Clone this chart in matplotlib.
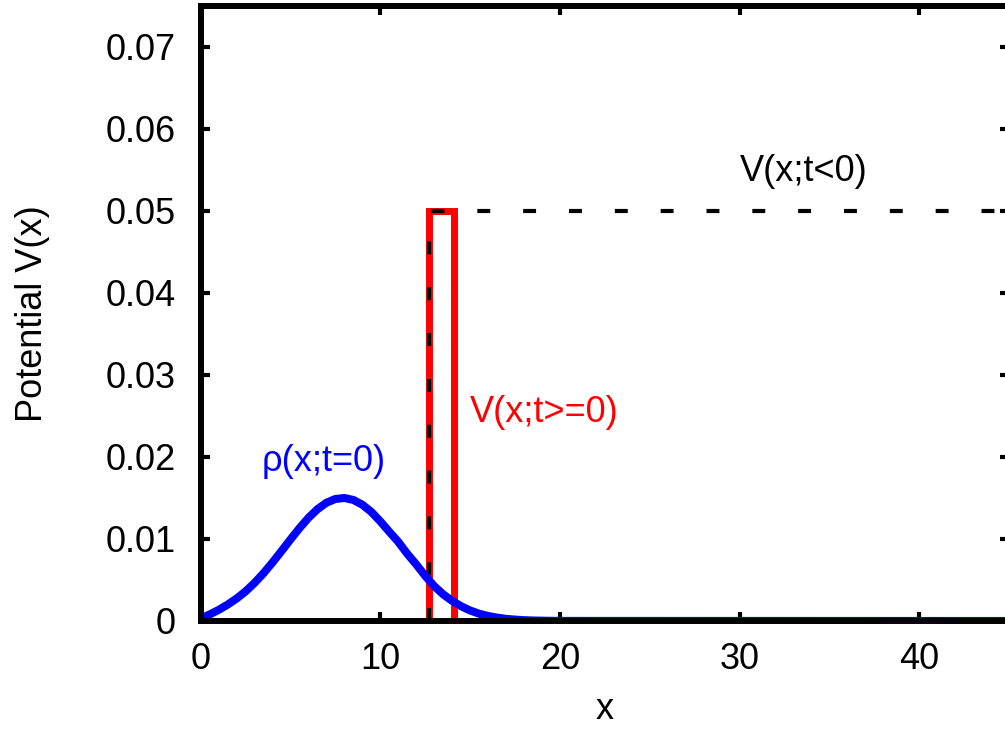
import matplotlib
matplotlib.use("Agg")
from matplotlib import pyplot as plt

# wave packet density
rho_x = [0, 0.5, 1, 1.5, 2, 2.5, 3, 3.5, 4, 4.5, 5, 5.5, 6, 6.5, 7, 7.5, 8,
         8.5, 9, 9.5, 10, 10.5, 11, 11.5, 12, 12.5, 13, 13.5, 14, 14.5, 15,
         15.5, 16, 16.5, 17, 17.5, 18, 18.5, 19, 19.5, 20, 45]
rho_y = [0.0003, 0.0008, 0.00135, 0.00200, 0.00274, 0.00361, 0.00465,
         0.00583, 0.00714, 0.00853, 0.00995, 0.01132, 0.01258, 0.01363,
         0.01442, 0.01488, 0.01500, 0.01476, 0.01418, 0.01330, 0.01215,
         0.01088, 0.00965, 0.00820, 0.00690, 0.00550, 0.00425, 0.00325,
         0.00245, 0.00180, 0.00128, 0.00089, 0.00061, 0.00041, 0.00026,
         0.00017, 0.00010, 0.00006, 0.00004, 0.00002, 0.00001, 0.0]

# potentials
barrier_x = [12.7, 12.7, 14.1, 14.1]
barrier_y = [0, 0.05, 0.05, 0]
step_x = [12.7, 12.7, 45]
step_y = [0, 0.05, 0.05]

xticks = [0, 10, 20, 30, 40]
yticks = [0, 0.01, 0.02, 0.03, 0.04, 0.05, 0.06, 0.07]
ytick_labels = ["0", "0.01", "0.02", "0.03", "0.04", "0.05", "0.06", "0.07"]

plt.rcParams['font.family'] = ['Liberation Sans', 'DejaVu Sans']

fig = plt.figure(figsize=(10.05, 7.31), dpi=100)
ax = fig.add_axes([0.1997, 0.1505, 0.8042, 0.8413])

ax.plot(barrier_x, barrier_y, color='#ff0000', lw=5, solid_joinstyle='miter', zorder=1)
ax.plot(step_x, step_y, color='black', lw=3, dashes=(3.1, 7.9), zorder=1.5)
ax.plot(rho_x, rho_y, color='#0000ff', lw=5.8, zorder=2)

fs = 26
ax.text(30.0, 0.0548, "V(x;t<0)", color='black', fontsize=fs, ha='left', va='center')
ax.text(15.0, 0.0254, "V(x;t>=0)", color='#ff0000', fontsize=fs, ha='left', va='center')
ax.text(3.42, 0.0194, "ρ(x;t=0)", color='#0000ff', fontsize=fs, ha='left', va='center')

ax.set_xlim(0, 45)
ax.set_ylim(0, 0.075)
ax.set_xticks(xticks)
ax.set_xticklabels([str(t) for t in xticks])
ax.set_yticks(yticks)
ax.set_yticklabels(ytick_labels)
ax.tick_params(axis='both', direction='in', length=6.5, width=3, labelsize=fs,
               top=True, right=True)
ax.tick_params(axis='x', pad=15)
ax.tick_params(axis='y', pad=18)
for s in ax.spines.values():
    s.set_linewidth(4.3)

ax.set_xlabel("x", fontsize=fs, labelpad=11)
ax.set_ylabel("Potential V(x)", fontsize=fs, labelpad=40)

fig.savefig("out.png", dpi=100)
